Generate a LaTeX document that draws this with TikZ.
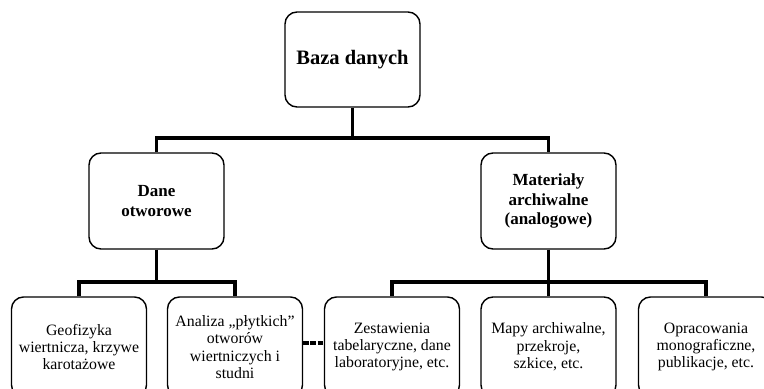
\documentclass[tikz,border=0pt]{standalone}
\usepackage{fontspec}
\setmainfont{Liberation Serif}
\usepackage{tikz}

\begin{document}
\begin{tikzpicture}[
    x=0.3mm, y=-0.3mm,
    box/.style={draw, line width=1.2pt, rounded corners=3.6mm, align=center, inner sep=2pt},
    top/.style={box, minimum width=40.5mm, minimum height=28.5mm, font=\fontsize{17.5}{20}\selectfont\bfseries},
    group/.style={box, minimum width=40.5mm, minimum height=28.8mm, font=\fontsize{14.5}{17}\selectfont\bfseries},
    leaf/.style={box, minimum width=40.5mm, minimum height=30mm, font=\fontsize{13.5}{14.8}\selectfont},
    link/.style={line width=2.6pt},
    dashlink/.style={line width=2.8pt, dash pattern=on 4.6pt off 1.6pt}
]

\clip (0,0) rectangle (764,389);

% Baza danych
\node[top] (db) at (352.5,59.5) {Baza danych};
\coordinate (topbar) at (352.5,138);

% Dane otworowe
\node[group] (dane) at (156.5,201) {Dane\\otworowe};
\coordinate (danebar) at (156.5,282);
\node[leaf] (geo) at (79,347) {Geofizyka\\wiertnicza, krzywe\\karotażowe};
\node[leaf] (plyt) at (235,347) {Analiza „płytkich”\\otworów\\wiertniczych i\\studni};

% Materiały archiwalne
\node[group] (mat) at (548.5,201) {Materiały\\archiwalne\\(analogowe)};
\coordinate (matbar) at (548.5,282);
\node[leaf] (zest) at (392,347) {Zestawienia\\tabelaryczne, dane\\laboratoryjne, etc.};
\node[leaf] (mapy) at (548.5,347) {Mapy archiwalne,\\przekroje,\\szkice, etc.};
\node[leaf] (opr) at (706,347) {Opracowania\\monograficzne,\\publikacje, etc.};

% Connectors
\draw[link] (db) -- (topbar);
\draw[link] (dane.north) |- (topbar) -| (mat.north);
\draw[link] (dane) -- (danebar);
\draw[link] (geo.north) |- (danebar) -| (plyt.north);
\draw[link] (mat) -- (matbar);
\draw[link] (zest.north) |- (matbar) -| (opr.north);
\draw[link] (matbar) -- (mapy);
\draw[dashlink] ([yshift=1.2mm]plyt.east) -- ([yshift=1.2mm]zest.west);

\end{tikzpicture}
\end{document}
